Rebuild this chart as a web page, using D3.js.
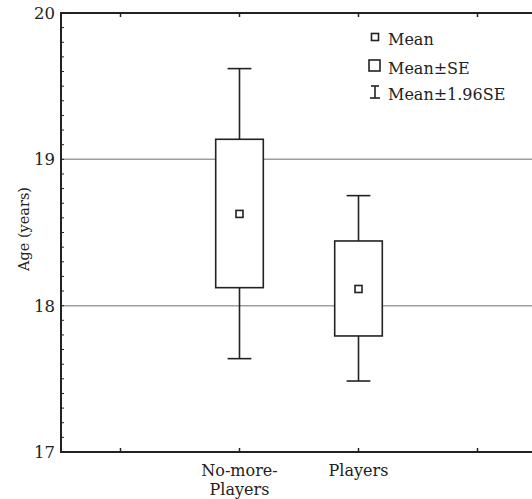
<!DOCTYPE html>
<html>
<head>
<meta charset="utf-8">
<script src="https://cdn.jsdelivr.net/npm/d3@7"></script>
<style>
  body { margin: 0; background: #fff; }
  text { font-family: "DejaVu Serif", "Liberation Serif", serif; fill: #222; }
</style>
</head>
<body>
<div id="chart"></div>
<script>
// chart data
var categories = ["No-more-Players", "Players"];
var catPos = [2, 3];
var means = [18.627, 18.114];
var seLow = [18.123, 17.793];
var seHigh = [19.137, 18.442];
var ciLow = [17.638, 17.485];
var ciHigh = [19.62, 18.752];
var yTicks = [17, 18, 19, 20];
var gridVals = [18, 19];
var legendLabels = ["Mean", "Mean\u00b1SE", "Mean\u00b11.96SE"];

var W = 532, H = 499;
var ink = "#222";

var svg = d3.select("#chart")
    .append("svg")
    .attr("width", W)
    .attr("height", H);

// the frame runs off the right edge of the picture
var x = d3.scaleLinear().domain([0.5, 5.5]).range([61, 656]);
var y = d3.scaleLinear().domain([17, 20]).range([452, 13]);

// grid lines
svg.selectAll("line.grid")
    .data(gridVals)
    .enter()
    .append("line")
    .attr("class", "grid")
    .attr("x1", x(0.5)).attr("x2", x(5.5))
    .attr("y1", function(d) { return y(d); })
    .attr("y2", function(d) { return y(d); })
    .attr("stroke", "#9e9e9e")
    .attr("stroke-width", 1.5);

var g = svg.selectAll("g.cat")
    .data(categories.map(function(c, i) { return i; }))
    .enter()
    .append("g");

// whiskers (mean +- 1.96 SE)
g.append("line")
    .attr("x1", function(i) { return x(catPos[i]); })
    .attr("x2", function(i) { return x(catPos[i]); })
    .attr("y1", function(i) { return y(ciLow[i]); })
    .attr("y2", function(i) { return y(ciHigh[i]); })
    .attr("stroke", ink).attr("stroke-width", 1.6);

[ciLow, ciHigh].forEach(function(arr) {
    g.append("line")
        .attr("x1", function(i) { return x(catPos[i] - 0.1); })
        .attr("x2", function(i) { return x(catPos[i] + 0.1); })
        .attr("y1", function(i) { return y(arr[i]); })
        .attr("y2", function(i) { return y(arr[i]); })
        .attr("stroke", ink).attr("stroke-width", 1.6);
});

// boxes (mean +- SE)
g.append("rect")
    .attr("x", function(i) { return x(catPos[i] - 0.2); })
    .attr("width", x(0.9) - x(0.5))
    .attr("y", function(i) { return y(seHigh[i]); })
    .attr("height", function(i) { return y(seLow[i]) - y(seHigh[i]); })
    .attr("fill", "#fff")
    .attr("stroke", ink).attr("stroke-width", 1.6);

// mean markers
g.append("rect")
    .attr("x", function(i) { return x(catPos[i]) - 3.5; })
    .attr("y", function(i) { return y(means[i]) - 3.5; })
    .attr("width", 7).attr("height", 7)
    .attr("fill", "#fff")
    .attr("stroke", ink).attr("stroke-width", 1.6);

// frame
var frame = svg.append("g").attr("stroke", ink).attr("stroke-width", 2).attr("fill", "none");
frame.append("line").attr("x1", x(0.5)).attr("x2", x(0.5)).attr("y1", y(20) - 1).attr("y2", y(17) + 1);
frame.append("line").attr("x1", x(0.5)).attr("x2", x(5.5)).attr("y1", y(20)).attr("y2", y(20));
frame.append("line").attr("x1", x(0.5)).attr("x2", x(5.5)).attr("y1", y(17)).attr("y2", y(17));

// x ticks, inside, top and bottom
var xTickVals = [1, 2, 3, 4, 5];
svg.selectAll("line.xtb")
    .data(xTickVals).enter().append("line")
    .attr("x1", function(d) { return x(d); }).attr("x2", function(d) { return x(d); })
    .attr("y1", y(17)).attr("y2", y(17) - 4)
    .attr("stroke", ink).attr("stroke-width", 1.5);
svg.selectAll("line.xtt")
    .data(xTickVals).enter().append("line")
    .attr("x1", function(d) { return x(d); }).attr("x2", function(d) { return x(d); })
    .attr("y1", y(20)).attr("y2", y(20) + 4)
    .attr("stroke", ink).attr("stroke-width", 1.5);

// y minor ticks every 0.1, inside
var minor = d3.range(171, 200).map(function(v) { return v / 10; });
svg.selectAll("line.ytick")
    .data(minor).enter().append("line")
    .attr("x1", x(0.5)).attr("x2", x(0.5) + 3)
    .attr("y1", function(d) { return y(d); }).attr("y2", function(d) { return y(d); })
    .attr("stroke", ink).attr("stroke-width", 1);

// y tick labels
svg.selectAll("text.ylab")
    .data(yTicks).enter().append("text")
    .attr("x", 55)
    .attr("y", function(d) { return y(d); })
    .attr("dy", "0.36em")
    .attr("text-anchor", "end")
    .style("font-size", "16.5px")
    .text(function(d) { return d; });

// y axis title
svg.append("text")
    .attr("transform", "translate(29,229) rotate(-90)")
    .attr("text-anchor", "middle")
    .style("font-size", "14.5px")
    .text("Age (years)");

// category labels, split after the hyphen
categories.forEach(function(c, i) {
    var parts = c.indexOf("-Players") > 0 ? ["No-more-", "Players"] : [c];
    var t = svg.append("text")
        .attr("x", x(catPos[i]))
        .attr("y", 476)
        .attr("text-anchor", "middle")
        .style("font-size", "16px");
    parts.forEach(function(p, k) {
        t.append("tspan").attr("x", x(catPos[i])).attr("dy", k === 0 ? 0 : 19).text(p);
    });
});

// legend
var lx = 375, ly = [37, 66, 92];
var leg = svg.append("g");
leg.append("rect").attr("x", lx - 3.5).attr("y", ly[0] - 3.5).attr("width", 7).attr("height", 7)
    .attr("fill", "#fff").attr("stroke", ink).attr("stroke-width", 1.6);
leg.append("rect").attr("x", lx - 6).attr("y", ly[1] - 6).attr("width", 11).attr("height", 11)
    .attr("fill", "#fff").attr("stroke", ink).attr("stroke-width", 1.6);
leg.append("line").attr("x1", lx).attr("x2", lx).attr("y1", ly[2] - 6).attr("y2", ly[2] + 6)
    .attr("stroke", ink).attr("stroke-width", 1.6);
leg.append("line").attr("x1", lx - 4).attr("x2", lx + 4).attr("y1", ly[2] - 6).attr("y2", ly[2] - 6)
    .attr("stroke", ink).attr("stroke-width", 1.6);
leg.append("line").attr("x1", lx - 5).attr("x2", lx + 5).attr("y1", ly[2] + 6).attr("y2", ly[2] + 6)
    .attr("stroke", ink).attr("stroke-width", 1.6);
leg.selectAll("text")
    .data(legendLabels).enter().append("text")
    .attr("x", 388)
    .attr("y", function(d, i) { return ly[i] + 8; })
    .style("font-size", "16px")
    .text(function(d) { return d; });
</script>
</body>
</html>
